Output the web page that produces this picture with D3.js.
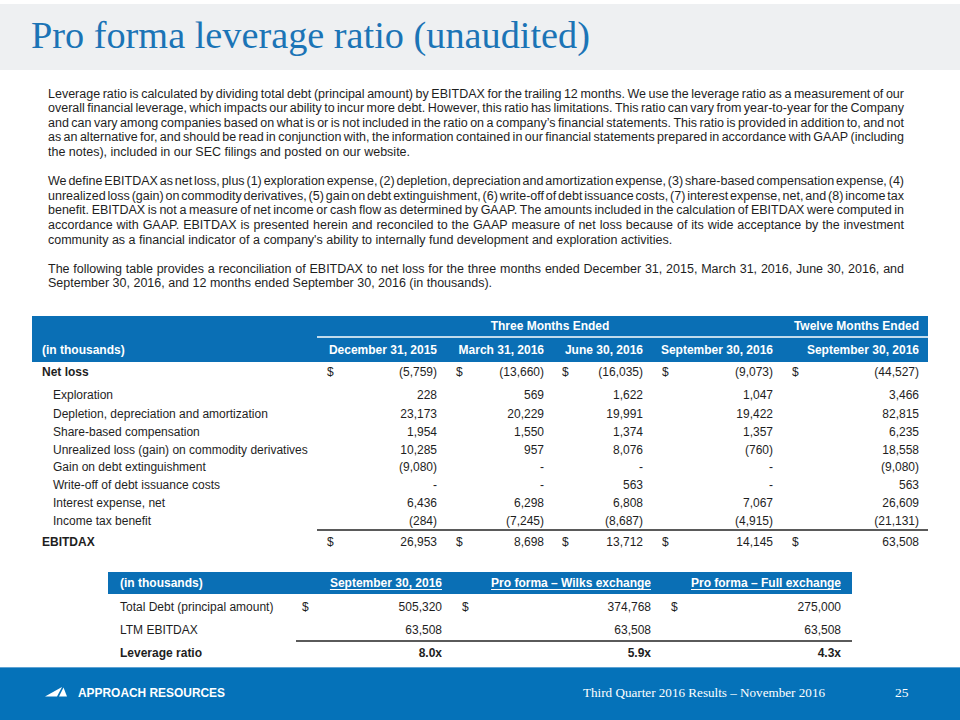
<!DOCTYPE html>
<html>
<head>
<meta charset="utf-8">
<script src="https://cdn.jsdelivr.net/npm/d3@7"></script>
<style>
  html, body { margin: 0; padding: 0; background: #fff; }
  svg { display: block; }
</style>
</head>
<body>
<script>
// ---------------- DATA ----------------
const titleText = "Pro forma leverage ratio (unaudited)";

const para1 = [
  "Leverage ratio is calculated by dividing total debt (principal amount) by EBITDAX for the trailing 12 months. We use the leverage ratio as a measurement of our",
  "overall financial leverage, which impacts our ability to incur more debt. However, this ratio has limitations. This ratio can vary from year-to-year for the Company",
  "and can vary among companies based on what is or is not included in the ratio on a company’s financial statements. This ratio is provided in addition to, and not",
  "as an alternative for, and should be read in conjunction with, the information contained in our financial statements prepared in accordance with GAAP (including",
  "the notes), included in our SEC filings and posted on our website."
];
const para2 = [
  "We define EBITDAX as net loss, plus (1) exploration expense, (2) depletion, depreciation and amortization expense, (3) share-based compensation expense, (4)",
  "unrealized loss (gain) on commodity derivatives, (5) gain on debt extinguishment, (6) write-off of debt issuance costs, (7) interest expense, net, and (8) income tax",
  "benefit. EBITDAX is not a measure of net income or cash flow as determined by GAAP. The amounts included in the calculation of EBITDAX were computed in",
  "accordance with GAAP. EBITDAX is presented herein and reconciled to the GAAP measure of net loss because of its wide acceptance by the investment",
  "community as a financial indicator of a company's ability to internally fund development and exploration activities."
];
const para3 = [
  "The following table provides a reconciliation of EBITDAX to net loss for the three months ended December 31, 2015, March 31, 2016, June 30, 2016, and",
  "September 30, 2016, and 12 months ended September 30, 2016 (in thousands)."
];

const groupHeaders = ["Three Months Ended", "Twelve Months Ended"];
const periods = ["December 31, 2015", "March 31, 2016", "June 30, 2016", "September 30, 2016", "September 30, 2016"];
const rowLabels = [
  "Net loss", "Exploration", "Depletion, depreciation and amortization", "Share-based compensation",
  "Unrealized loss (gain) on commodity derivatives", "Gain on debt extinguishment",
  "Write-off of debt issuance costs", "Interest expense,  net", "Income tax benefit", "EBITDAX"
];
const netLoss      = [-5759, -13660, -16035, -9073, -44527];
const exploration  = [228, 569, 1622, 1047, 3466];
const dda          = [23173, 20229, 19991, 19422, 82815];
const shareBased   = [1954, 1550, 1374, 1357, 6235];
const unrealized   = [10285, 957, 8076, -760, 18558];
const gainDebt     = [-9080, 0, 0, 0, -9080];
const writeOff     = [0, 0, 563, 0, 563];
const interestExp  = [6436, 6298, 6808, 7067, 26609];
const incomeTax    = [-284, -7245, -8687, -4915, -21131];
const ebitdax      = [26953, 8698, 13712, 14145, 63508];

const levColumns   = ["September 30, 2016", "Pro forma – Wilks exchange", "Pro forma – Full exchange"];
const levLabels    = ["Total Debt (principal amount)", "LTM EBITDAX", "Leverage ratio"];
const totalDebt    = [505320, 374768, 275000];
const ltmEbitdax   = [63508, 63508, 63508];
const leverage     = [8.0, 5.9, 4.3];

const footerLeft = "APPROACH RESOURCES";
const footerMid  = "Third Quarter 2016 Results – November 2016";
const pageNum    = "25";

// ---------------- DRAWING ----------------
const W = 960, H = 720;
const BLUE = "#0a6fb5", TEXT = "#1e1e1e", SANS = "'Liberation Sans', Arial, sans-serif";
const SERIF = "'Liberation Serif', 'DejaVu Serif', serif";

const svg = d3.select("body").append("svg").attr("width", W).attr("height", H);

// title bar
svg.append("rect").attr("x", 0).attr("y", 4).attr("width", W).attr("height", 66).attr("fill", "#eef0f2");
svg.append("text").attr("x", 31).attr("y", 48)
  .attr("font-family", SERIF).attr("font-size", 38).attr("fill", "#1b74b6")
  .attr("textLength", 559).attr("lengthAdjust", "spacingAndGlyphs")
  .text(titleText);

// justified paragraphs
const BODY_FS = 12.5;
function measure(str) {
  const t = svg.append("text").attr("font-family", SANS).attr("font-size", BODY_FS).text(str);
  const w = t.node().getComputedTextLength();
  t.remove();
  return w;
}
function drawParagraph(lines, y0, lh) {
  const x0 = 48, x1 = 904;
  lines.forEach((line, i) => {
    const y = y0 + i * lh;
    const g = svg.append("g");
    if (i === lines.length - 1) {
      g.append("text").attr("x", x0).attr("y", y).attr("font-family", SANS)
        .attr("font-size", BODY_FS).attr("fill", TEXT).text(line);
      return;
    }
    const words = line.split(" ");
    const widths = words.map(w => measure(w));
    const gap = (x1 - x0 - d3.sum(widths)) / (words.length - 1);
    let x = x0;
    words.forEach((w, k) => {
      g.append("text").attr("x", x).attr("y", y).attr("font-family", SANS)
        .attr("font-size", BODY_FS).attr("fill", TEXT).text(w);
      x += widths[k] + gap;
    });
  });
}
const LH = 14.6;
const p1y = 97.5;
const p2y = p1y + (para1.length + 1) * LH;
const p3y = p2y + (para2.length + 1) * LH;
drawParagraph(para1, p1y, LH);
drawParagraph(para2, p2y, LH);
drawParagraph(para3, p3y, LH);

// ---------- main table ----------
const fmtNum = v => v === 0 ? "-" : (v < 0 ? "(" + d3.format(",")(-v) + ")" : d3.format(",")(v));
const TFS = 12;
const colIdx = d3.range(periods.length);
const colRight = d3.scaleOrdinal().domain(colIdx).range([437, 544, 643, 773, 919]);
const colDollar = d3.scaleOrdinal().domain(colIdx).range([327, 456, 562, 662, 792]);
const rowIdx = d3.range(rowLabels.length);
const rowY = d3.scaleOrdinal().domain(rowIdx).range([372, 395, 413.5, 431.5, 449.5, 467, 485, 503, 521, 542]);
const rowValues = [netLoss, exploration, dda, shareBased, unrealized, gainDebt, writeOff, interestExp, incomeTax, ebitdax];
const boldRows = new Set([0, rowLabels.length - 1]);
const dollarRows = new Set([0, rowLabels.length - 1]);

const tbl = svg.append("g");
tbl.append("rect").attr("x", 32).attr("y", 316).attr("width", 896).attr("height", 46).attr("fill", BLUE);
tbl.append("line").attr("x1", 317).attr("x2", 928).attr("y1", 337).attr("y2", 337)
  .attr("stroke", "#fff").attr("stroke-width", 1.5);
tbl.append("text").attr("x", 550).attr("y", 330).attr("text-anchor", "middle")
  .attr("font-family", SANS).attr("font-size", TFS).attr("font-weight", "bold").attr("fill", "#fff")
  .text(groupHeaders[0]);
tbl.append("text").attr("x", colRight(4)).attr("y", 330).attr("text-anchor", "end")
  .attr("font-family", SANS).attr("font-size", TFS).attr("font-weight", "bold").attr("fill", "#fff")
  .text(groupHeaders[1]);
tbl.append("text").attr("x", 42).attr("y", 354)
  .attr("font-family", SANS).attr("font-size", TFS).attr("font-weight", "bold").attr("fill", "#fff")
  .text("(in thousands)");
tbl.selectAll("text.ph").data(periods).join("text").attr("class", "ph")
  .attr("x", (d, i) => colRight(i)).attr("y", 354).attr("text-anchor", "end")
  .attr("font-family", SANS).attr("font-size", TFS).attr("font-weight", "bold").attr("fill", "#fff")
  .text(d => d);

// rule above EBITDAX
tbl.append("line").attr("x1", 317).attr("x2", 928).attr("y1", 530).attr("y2", 530)
  .attr("stroke", "#5a5a5a").attr("stroke-width", 2);

const rows = tbl.selectAll("g.row").data(rowIdx).join("g").attr("class", "row")
  .attr("transform", i => `translate(0,${rowY(i) + 4})`);
rows.append("text")
  .attr("x", i => boldRows.has(i) ? 42 : 53)
  .attr("font-family", SANS).attr("font-size", TFS)
  .attr("font-weight", i => boldRows.has(i) ? "bold" : "normal").attr("fill", TEXT)
  .text(i => rowLabels[i]);
rows.each(function(i) {
  const g = d3.select(this);
  g.selectAll("text.v").data(rowValues[i]).join("text").attr("class", "v")
    .attr("x", (d, j) => colRight(j)).attr("text-anchor", "end")
    .attr("font-family", SANS).attr("font-size", TFS).attr("fill", TEXT)
    .text(d => fmtNum(d));
  if (dollarRows.has(i)) {
    g.selectAll("text.d").data(colIdx).join("text").attr("class", "d")
      .attr("x", j => colDollar(j))
      .attr("font-family", SANS).attr("font-size", TFS).attr("fill", TEXT).text("$");
  }
});

// ---------- leverage table ----------
const lIdx = d3.range(levColumns.length);
const lRight = d3.scaleOrdinal().domain(lIdx).range([442, 651, 841]);
const lDollar = d3.scaleOrdinal().domain(lIdx).range([302, 462, 671]);
const lRowY = d3.scaleOrdinal().domain(d3.range(3)).range([606.5, 629.5, 653]);
const lValues = [totalDebt, ltmEbitdax, leverage];
const lt = svg.append("g");
lt.append("rect").attr("x", 108).attr("y", 572).attr("width", 744).attr("height", 22).attr("fill", BLUE);
lt.append("text").attr("x", 120).attr("y", 587)
  .attr("font-family", SANS).attr("font-size", TFS).attr("font-weight", "bold").attr("fill", "#fff")
  .text("(in thousands)");
lt.selectAll("text.ch").data(levColumns).join("text").attr("class", "ch")
  .attr("x", (d, i) => lRight(i)).attr("y", 587).attr("text-anchor", "end")
  .attr("font-family", SANS).attr("font-size", TFS).attr("font-weight", "bold").attr("fill", "#fff")
  .text(d => d)
  .each(function(d, i) {
    const w = this.getComputedTextLength();
    lt.append("line").attr("x1", lRight(i) - w).attr("x2", lRight(i))
      .attr("y1", 589.5).attr("y2", 589.5).attr("stroke", "#fff").attr("stroke-width", 1);
  });
lt.append("line").attr("x1", 296).attr("x2", 852).attr("y1", 641).attr("y2", 641)
  .attr("stroke", "#5a5a5a").attr("stroke-width", 2);
const lrows = lt.selectAll("g.lrow").data(d3.range(3)).join("g").attr("class", "lrow")
  .attr("transform", i => `translate(0,${lRowY(i) + 4})`);
lrows.append("text").attr("x", 120)
  .attr("font-family", SANS).attr("font-size", TFS)
  .attr("font-weight", i => i === 2 ? "bold" : "normal").attr("fill", TEXT)
  .text(i => levLabels[i]);
lrows.each(function(i) {
  const g = d3.select(this);
  g.selectAll("text.v").data(lValues[i]).join("text").attr("class", "v")
    .attr("x", (d, j) => lRight(j)).attr("text-anchor", "end")
    .attr("font-family", SANS).attr("font-size", TFS)
    .attr("font-weight", i === 2 ? "bold" : "normal").attr("fill", TEXT)
    .text(d => i === 2 ? d3.format(".1f")(d) + "x" : fmtNum(d));
  if (i === 0) {
    g.selectAll("text.d").data(lIdx).join("text").attr("class", "d")
      .attr("x", j => lDollar(j))
      .attr("font-family", SANS).attr("font-size", TFS).attr("fill", TEXT).text("$");
  }
});

// ---------- footer ----------
svg.append("rect").attr("x", 0).attr("y", 667).attr("width", W).attr("height", 53).attr("fill", "#0572b9");
svg.append("line").attr("x1", 0).attr("x2", W).attr("y1", 667.5).attr("y2", 667.5)
  .attr("stroke", "#5fa3d3").attr("stroke-width", 1);
svg.append("polygon").attr("points", "45,696.5 62,687 57,696.5").attr("fill", "#fff");
svg.append("polygon").attr("points", "59,696.5 63.5,687.5 67,696.5").attr("fill", "#fff");
svg.append("text").attr("x", 78).attr("y", 697)
  .attr("font-family", SANS).attr("font-size", 12.5).attr("font-weight", "bold").attr("fill", "#fff")
  .attr("textLength", 147).attr("lengthAdjust", "spacingAndGlyphs")
  .text(footerLeft);
svg.append("text").attr("x", 583).attr("y", 697)
  .attr("font-family", SERIF).attr("font-size", 13.5).attr("fill", "#fff")
  .attr("textLength", 242).attr("lengthAdjust", "spacingAndGlyphs")
  .text(footerMid);
svg.append("text").attr("x", 895).attr("y", 697)
  .attr("font-family", SERIF).attr("font-size", 13.5).attr("fill", "#fff")
  .text(pageNum);
</script>
</body>
</html>
